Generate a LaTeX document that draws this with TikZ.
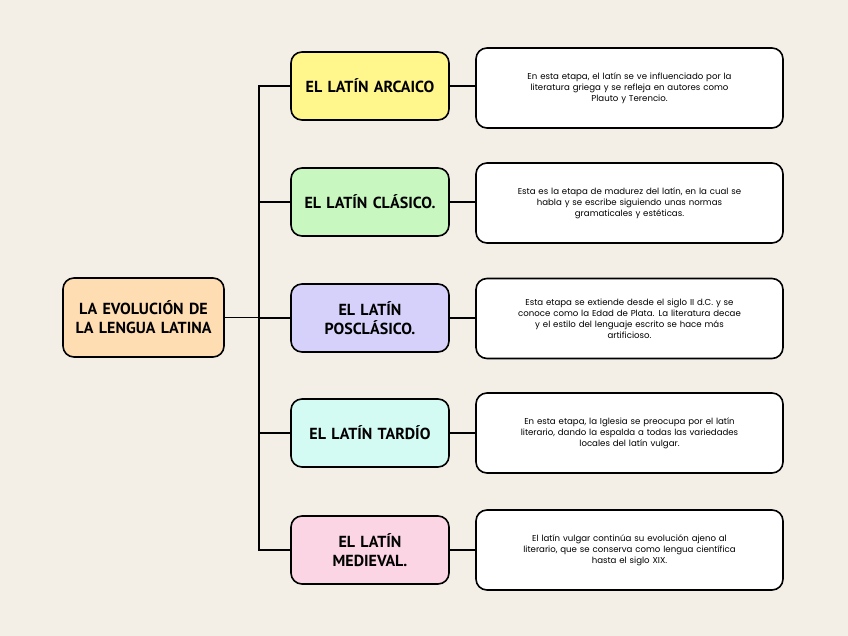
\documentclass[tikz,border=0pt]{standalone}
\usepackage{fontspec}
\setmainfont{Poppins}
\newfontfamily\headfont{PT Sans}
\definecolor{bg}{HTML}{F3EFE7}
\definecolor{cA}{HTML}{FFF78C}
\definecolor{cB}{HTML}{C8F7C0}
\definecolor{cC}{HTML}{D6D1FA}
\definecolor{cD}{HTML}{D3FBF4}
\definecolor{cE}{HTML}{FCD5E4}
\definecolor{cR}{HTML}{FFDDB3}
\begin{document}
\begin{tikzpicture}[x=1pt,y=-1pt,
 box/.style={draw=black,line width=1.6pt,rounded corners=11pt,inner sep=2pt,align=center},
 head/.style={box,minimum width=158pt,minimum height=68pt,text width=150pt,font=\headfont\bfseries\fontsize{16}{19}\selectfont},
 desc/.style={box,fill=white,minimum width=307pt,minimum height=80pt,text width=290pt,font=\fontsize{8.6}{11}\selectfont},
 link/.style={line width=1.3pt}]
\fill[bg] (0,0) rectangle (848,636);
\useasboundingbox (0,0) rectangle (848,636);
\node[head,fill=cR,minimum width=161pt,minimum height=79pt] (root) at (143.5,317.5) {LA EVOLUCIÓN DE\\LA LENGUA LATINA};
\node[head,fill=cA] (a) at (370,86) {EL LATÍN ARCAICO};
\node[head,fill=cB] (b) at (370,202) {EL LATÍN CLÁSICO.};
\node[head,fill=cC] (c) at (370,318) {EL LATÍN\\POSCLÁSICO.};
\node[head,fill=cD] (d) at (370,433) {EL LATÍN TARDÍO};
\node[head,fill=cE] (e) at (370,550) {EL LATÍN\\MEDIEVAL.};
\node[desc] (da) at (629.5,88) {En esta etapa, el latín se ve influenciado por la\\literatura griega y se refleja en autores como\\Plauto y Terencio.};
\node[desc] (db) at (629.5,203) {Esta es la etapa de madurez del latín, en la cual se\\habla y se escribe siguiendo unas normas\\gramaticales y estéticas.};
\node[desc] (dc) at (629.5,318.5) {Esta etapa se extiende desde el siglo II d.C. y se\\conoce como la Edad de Plata. La literatura decae\\y el estilo del lenguaje escrito se hace más\\artificioso.};
\node[desc] (dd) at (629.5,433) {En esta etapa, la Iglesia se preocupa por el latín\\literario, dando la espalda a todas las variedades\\locales del latín vulgar.};
\node[desc] (de) at (629.5,550) {El latín vulgar continúa su evolución ajeno al\\literario, que se conserva como lengua científica\\hasta el siglo XIX.};
\coordinate (j) at (259,317.5);
\draw[link] (root.east) -- (j);
\foreach \n in {a,b,c,d,e}{
 \draw[link] (j) |- (\n.west);
 \draw[link] (\n.east) -- (d\n.west |- \n.east);
}
\end{tikzpicture}
\end{document}
